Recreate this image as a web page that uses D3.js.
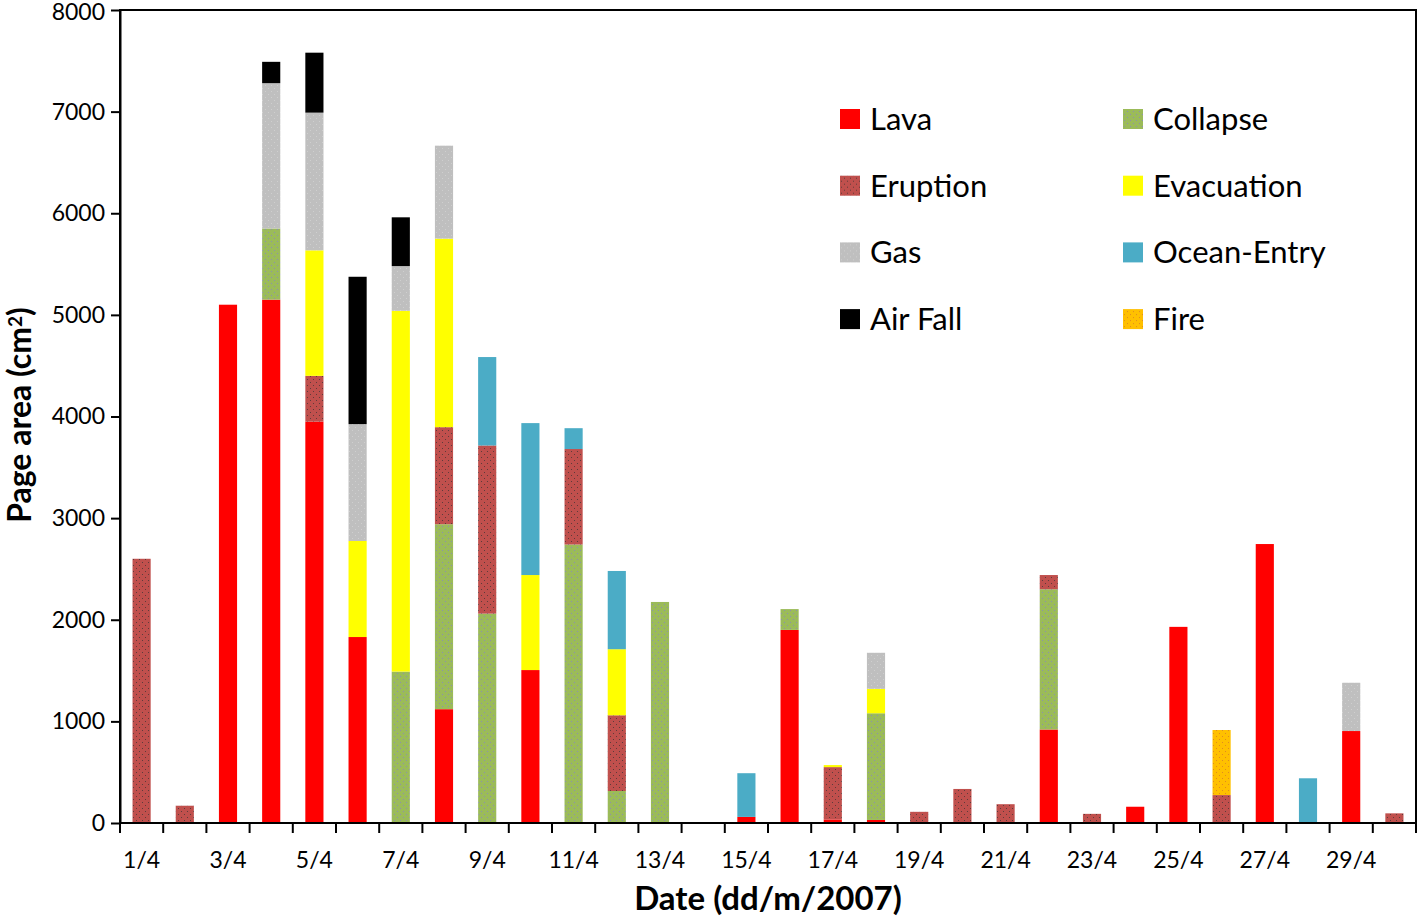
<!DOCTYPE html>
<html>
<head>
<meta charset="utf-8">
<script src="https://cdn.jsdelivr.net/npm/d3@7"></script>
<style>
  html, body { margin: 0; padding: 0; background: #fff; }
  svg { display: block; font-family: Lato, 'Noto Sans', sans-serif; }
</style>
</head>
<body>
<div id="chart"></div>
<script>
'use strict'

// days of April 2007
const dates = d3.range(1, 31).map(d => `${d}/4`);

// page area per category (cm2)
const lava       = [0, 0, 5100, 5150, 3950, 1830, 0, 1120, 0, 1505, 0, 0, 0, 0, 60, 1900, 35, 30, 0, 0, 0, 920, 0, 160, 1930, 0, 2745, 0, 905, 0];
const collapse   = [0, 0, 0, 700, 0, 0, 1490, 1820, 2060, 0, 2740, 315, 2175, 0, 0, 205, 0, 1050, 0, 0, 0, 1380, 0, 0, 0, 0, 0, 0, 0, 0];
const eruption   = [2600, 170, 0, 0, 450, 0, 0, 955, 1655, 0, 940, 745, 0, 0, 0, 0, 515, 0, 110, 335, 185, 140, 90, 0, 0, 275, 0, 0, 0, 95];
const evacuation = [0, 0, 0, 0, 1235, 945, 3550, 1855, 0, 935, 0, 650, 0, 0, 0, 0, 20, 240, 0, 0, 0, 0, 0, 0, 0, 0, 0, 0, 0, 0];
const gas        = [0, 0, 0, 1430, 1355, 1150, 440, 915, 0, 0, 0, 0, 0, 0, 0, 0, 0, 355, 0, 0, 0, 0, 0, 0, 0, 0, 0, 0, 475, 0];
const oceanEntry = [0, 0, 0, 0, 0, 0, 0, 0, 870, 1495, 205, 770, 0, 0, 430, 0, 0, 0, 0, 0, 0, 0, 0, 0, 0, 0, 0, 440, 0, 0];
const airFall    = [0, 0, 0, 210, 590, 1450, 480, 0, 0, 0, 0, 0, 0, 0, 0, 0, 0, 0, 0, 0, 0, 0, 0, 0, 0, 0, 0, 0, 0, 0];
const fire       = [0, 0, 0, 0, 0, 0, 0, 0, 0, 0, 0, 0, 0, 0, 0, 0, 0, 0, 0, 0, 0, 0, 0, 0, 0, 640, 0, 0, 0, 0];

const yTicks = [0, 1000, 2000, 3000, 4000, 5000, 6000, 7000, 8000];

// stacking order (bottom to top)
const series = [
  { key: 'Lava', values: lava, color: '#FF0000', dots: null },
  { key: 'Collapse', values: collapse, color: '#9BBB59', dots: '#8c8fb0' },
  { key: 'Eruption', values: eruption, color: '#C0504D', dots: '#5e3b3b' },
  { key: 'Evacuation', values: evacuation, color: '#FFFF00', dots: null },
  { key: 'Gas', values: gas, color: '#BFBFBF', dots: '#cfcfcf' },
  { key: 'Ocean-Entry', values: oceanEntry, color: '#4BACC6', dots: null },
  { key: 'Air Fall', values: airFall, color: '#000000', dots: null },
  { key: 'Fire', values: fire, color: '#FFC000', dots: '#e08a20' }
];

// legend layout: two columns
const legendCols = [
  ['Lava', 'Eruption', 'Gas', 'Air Fall'],
  ['Collapse', 'Evacuation', 'Ocean-Entry', 'Fire']
];

const width = 1418;
const height = 916;
const margin = { top: 10, right: 2, bottom: 93, left: 120 };

const svg = d3.select('#chart').append('svg')
  .attr('width', width)
  .attr('height', height);

const defs = svg.append('defs');
series.filter(s => s.dots).forEach((s, i) => {
  const p = defs.append('pattern')
    .attr('id', `pat${i}`)
    .attr('patternUnits', 'userSpaceOnUse')
    .attr('width', 6)
    .attr('height', 6);
  p.append('rect').attr('width', 6).attr('height', 6).attr('fill', s.color);
  p.append('rect').attr('x', 1).attr('y', 1).attr('width', 1).attr('height', 1).attr('fill', s.dots);
  p.append('rect').attr('x', 4).attr('y', 4).attr('width', 1).attr('height', 1).attr('fill', s.dots);
  s.fill = `url(#pat${i})`;
});
series.forEach(s => { if (!s.fill) s.fill = s.color; });

const table = dates.map((d, i) => {
  const row = { date: d };
  series.forEach(s => { row[s.key] = s.values[i]; });
  return row;
});

const stacked = d3.stack().keys(series.map(s => s.key))(table);

const x = d3.scaleBand()
  .domain(dates)
  .range([margin.left, width - margin.right])
  .paddingInner(0.58)
  .paddingOuter(0.29);

const xOuter = d3.scaleBand()
  .domain(dates)
  .range([margin.left, width - margin.right]);

const y = d3.scaleLinear()
  .domain([0, 8000])
  .range([height - margin.bottom, margin.top]);

// bars
svg.append('g')
  .selectAll('g')
  .data(stacked)
  .join('g')
  .attr('fill', (d, i) => series[i].fill)
  .selectAll('rect')
  .data(d => d)
  .join('rect')
  .attr('x', d => x(d.data.date))
  .attr('width', x.bandwidth())
  .attr('y', d => y(d[1]))
  .attr('height', d => y(d[0]) - y(d[1]));

// frame
svg.append('rect')
  .attr('x', margin.left)
  .attr('y', margin.top)
  .attr('width', width - margin.left - margin.right)
  .attr('height', height - margin.top - margin.bottom)
  .attr('fill', 'none')
  .attr('stroke', '#000')
  .attr('stroke-width', 2);

// y axis
const yAxis = svg.append('g')
  .attr('transform', `translate(${margin.left},0)`)
  .call(d3.axisLeft(y).tickValues(yTicks).tickFormat(d3.format('d')).tickSize(9).tickPadding(6).tickSizeOuter(0));
yAxis.select('.domain').attr('stroke-width', 2);
yAxis.selectAll('.tick line').attr('stroke-width', 2);
yAxis.selectAll('.tick text')
  .attr('font-size', 23)
  .attr('font-family', 'Lato, sans-serif')
  .attr('fill', '#000');
// keep the top label inside the page
yAxis.selectAll('.tick text')
  .filter(d => d === 8000)
  .attr('y', 2);

// x axis: ticks on category boundaries, labels on every other day
const xAxis = svg.append('g')
  .attr('transform', `translate(0,${height - margin.bottom})`);
xAxis.append('line')
  .attr('x1', margin.left)
  .attr('x2', width - margin.right)
  .attr('stroke', '#000')
  .attr('stroke-width', 2);
const bounds = dates.map(d => xOuter(d)).concat([width - margin.right]);
xAxis.selectAll('line.tk')
  .data(bounds)
  .join('line')
  .attr('class', 'tk')
  .attr('x1', d => d)
  .attr('x2', d => d)
  .attr('y1', 0)
  .attr('y2', 10)
  .attr('stroke', '#000')
  .attr('stroke-width', 2);
xAxis.selectAll('text')
  .data(dates.filter((d, i) => i % 2 === 0))
  .join('text')
  .attr('x', d => xOuter(d) + xOuter.bandwidth() / 2)
  .attr('y', 37)
  .attr('dy', '0.35em')
  .attr('text-anchor', 'middle')
  .attr('font-size', 23)
  .attr('fill', '#000')
  .text(d => d);

// axis titles
svg.append('text')
  .attr('x', 768)
  .attr('y', 898)
  .attr('dy', '0.35em')
  .attr('text-anchor', 'middle')
  .attr('font-size', 33)
  .attr('font-weight', 'bold')
  .text('Date (dd/m/2007)');

const yTitle = svg.append('text')
  .attr('transform', 'translate(20,415) rotate(-90)')
  .attr('dy', '0.35em')
  .attr('text-anchor', 'middle')
  .attr('font-size', 32)
  .attr('font-weight', 'bold');
yTitle.append('tspan').text('Page area (cm');
yTitle.append('tspan').attr('font-size', 19).attr('dy', '-0.5em').text('2');
yTitle.append('tspan').attr('dy', '0.3em').text(')');

// legend
const legendX = [840, 1123];
const legendY = 119;
const legendStep = 66.7;
legendCols.forEach((col, ci) => {
  col.forEach((key, ri) => {
    const s = series.find(d => d.key === key);
    const g = svg.append('g')
      .attr('transform', `translate(${legendX[ci]},${legendY + ri * legendStep})`);
    g.append('rect')
      .attr('x', 0)
      .attr('y', -10)
      .attr('width', 20)
      .attr('height', 20)
      .attr('fill', s.fill);
    g.append('text')
      .attr('x', 30)
      .attr('y', 0)
      .attr('dy', '0.35em')
      .attr('font-size', 31)
      .attr('fill', '#000')
      .text(key);
  });
});
</script>
</body>
</html>
